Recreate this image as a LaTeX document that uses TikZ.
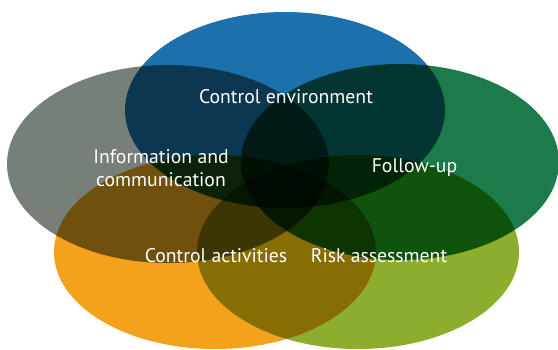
\documentclass[tikz,border=0pt]{standalone}
\usepackage{fontspec}
\setmainfont{PT Sans}
\definecolor{cblue}{HTML}{1C70AB}
\definecolor{cgray}{HTML}{767F78}
\definecolor{cgreen}{HTML}{1C7A4B}
\definecolor{corange}{HTML}{F4A11C}
\definecolor{colive}{HTML}{8DAE2D}
\begin{document}
\begin{tikzpicture}[x=1pt,y=-1pt,
  petal/.style={blend mode=multiply},
  lbl/.style={text=white,anchor=base,inner sep=0pt,font=\fontsize{19.7}{23}\selectfont,align=center}]
\useasboundingbox (0,0) rectangle (558,349);
\fill[white] (0,0) rectangle (558,349);
\fill[cblue,petal] (285,110) ellipse [x radius=160, y radius=98];
\fill[cgray,petal] (168,164) ellipse [x radius=161, y radius=99];
\fill[cgreen,petal] (400,162) ellipse [x radius=159, y radius=98];
\fill[corange,petal] (215,252) ellipse [x radius=161, y radius=97];
\fill[colive,petal] (358,252) ellipse [x radius=161, y radius=97];
\node[lbl] (env) at (286,103) {Control environment};
\node[lbl] (info1) at (161,163) {Information and};
\node[lbl] (info2) at (161,186) {communication};
\node[lbl] (fol) at (414.5,172) {Follow-up};
\node[lbl] (act) at (216,262) {Control activities};
\node[lbl] (risk) at (379,262) {Risk assessment};
\end{tikzpicture}
\end{document}
